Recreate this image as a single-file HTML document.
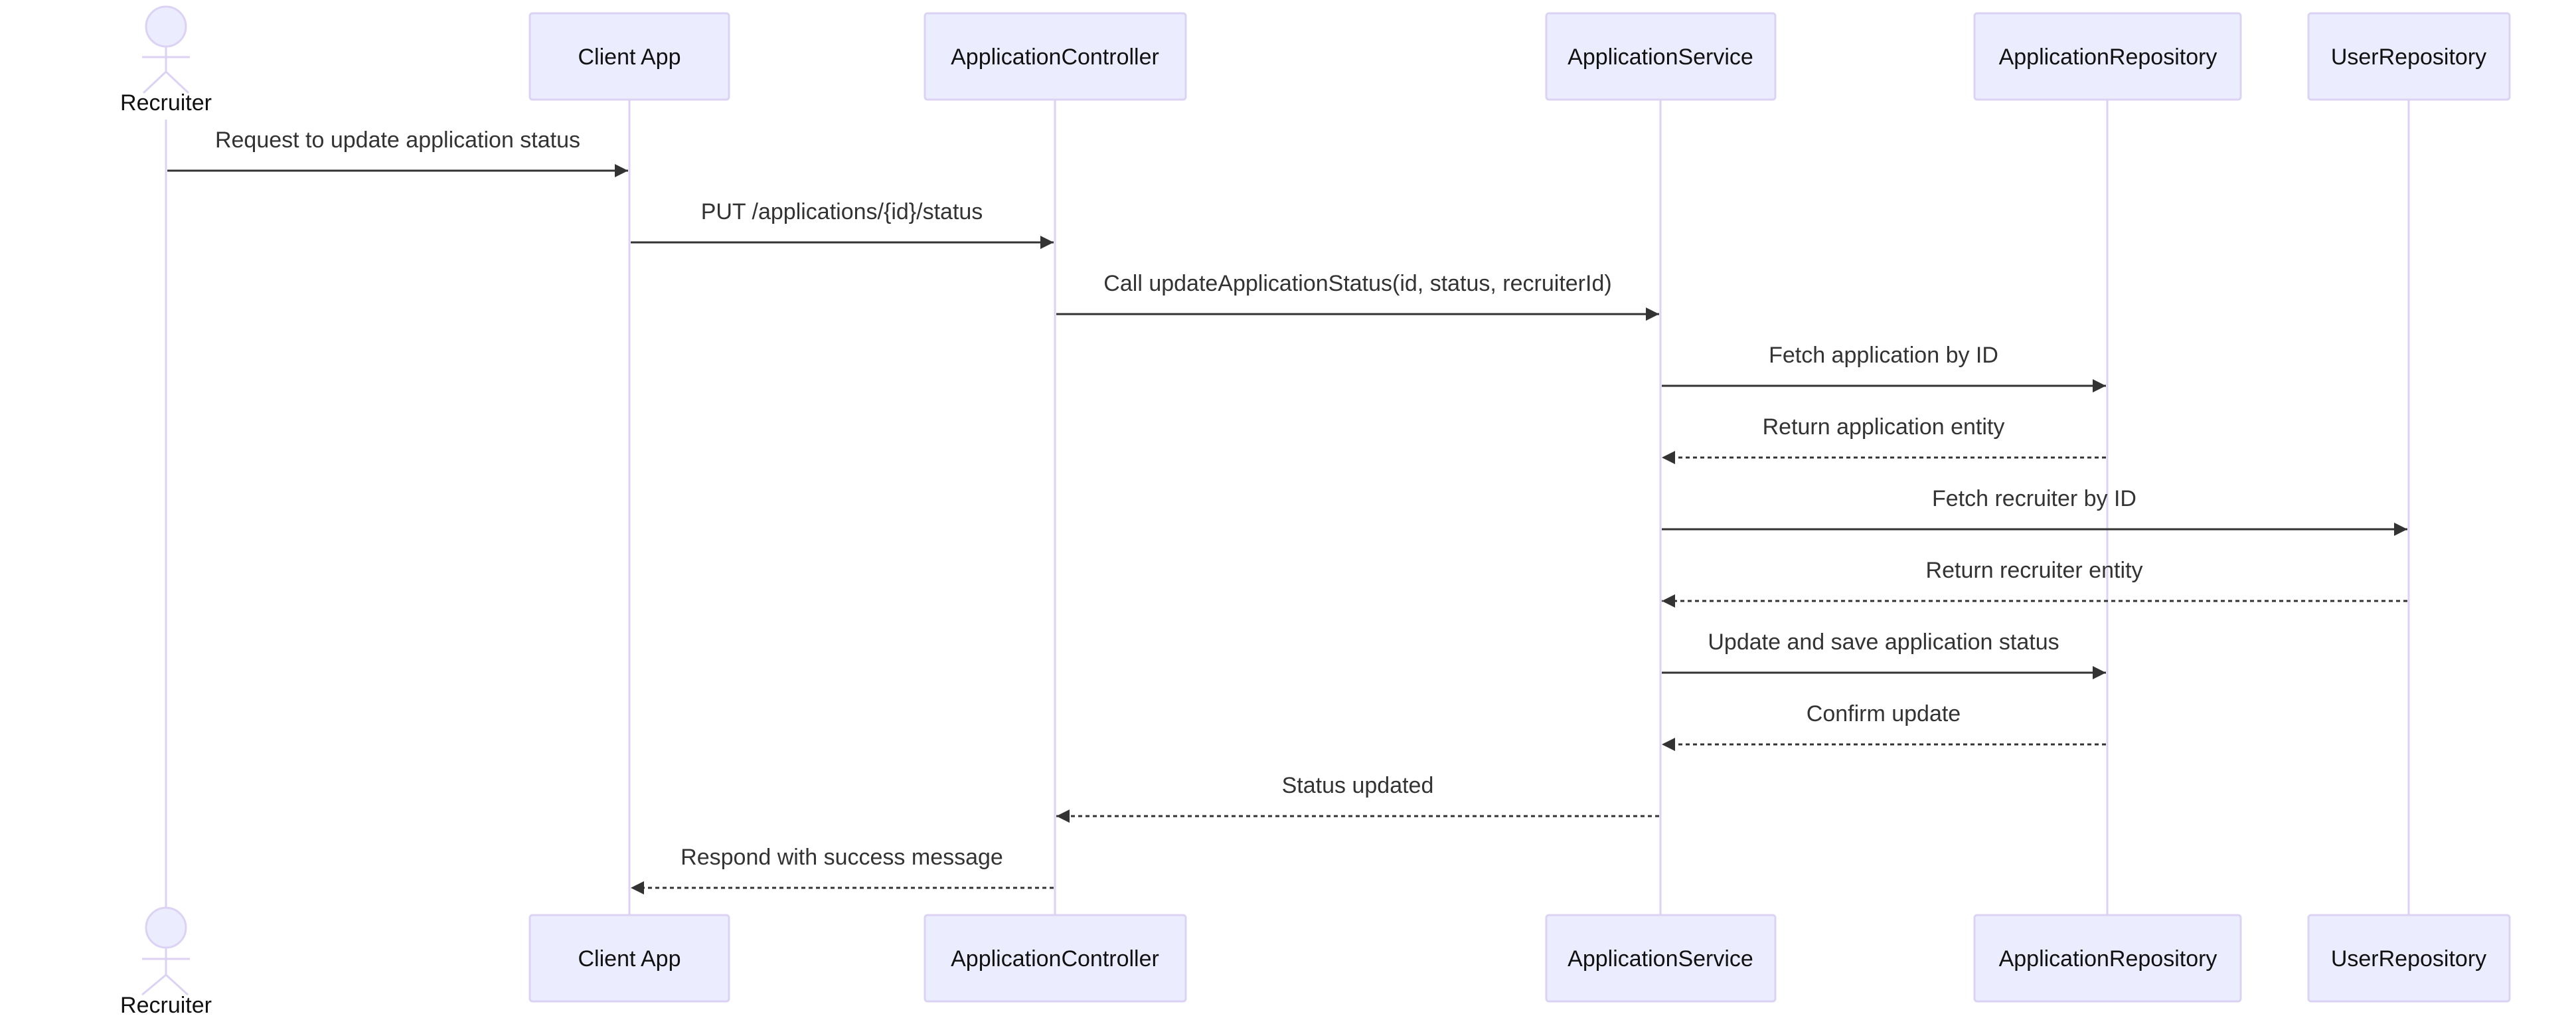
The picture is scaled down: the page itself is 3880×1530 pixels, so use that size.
<!DOCTYPE html>
<html><head><meta charset="utf-8"><style>
html,body{margin:0;padding:0;background:#fff;}
svg{display:block;}
text{font-family:"Liberation Sans",sans-serif;}
</style></head><body>
<svg width="3880" height="1530" viewBox="0 0 3880 1530" xmlns="http://www.w3.org/2000/svg">
<defs>
<marker id="ah" markerWidth="20" markerHeight="20" refX="20" refY="10" orient="auto" markerUnits="userSpaceOnUse">
<path d="M0,0 L20,10 L0,20 z" fill="#333"/>
</marker>
</defs>
<g stroke="#dcd2f3" stroke-width="3">
<line x1="250" y1="180" x2="250" y2="1367"/>
<line x1="948" y1="150" x2="948" y2="1378"/>
<line x1="1589" y1="150" x2="1589" y2="1378"/>
<line x1="2501" y1="150" x2="2501" y2="1378"/>
<line x1="3174" y1="150" x2="3174" y2="1378"/>
<line x1="3628" y1="150" x2="3628" y2="1378"/>
</g>
<g fill="#ececff" stroke="#dcd2f3" stroke-width="3">
<rect x="798" y="20" width="300" height="130" rx="4"/>
<rect x="1393" y="20" width="393" height="130" rx="4"/>
<rect x="2329" y="20" width="345" height="130" rx="4"/>
<rect x="2974" y="20" width="401" height="130" rx="4"/>
<rect x="3477" y="20" width="303" height="130" rx="4"/>
<rect x="798" y="1378" width="300" height="130" rx="4"/>
<rect x="1393" y="1378" width="393" height="130" rx="4"/>
<rect x="2329" y="1378" width="345" height="130" rx="4"/>
<rect x="2974" y="1378" width="401" height="130" rx="4"/>
<rect x="3477" y="1378" width="303" height="130" rx="4"/>
<circle cx="250" cy="40" r="30"/>
<circle cx="250" cy="1397" r="30"/>
</g>
<g stroke="#dcd2f3" stroke-width="3" fill="none">
<path d="M250,70 V108 M214,86 H286 M250,108 L216,140 M250,108 L284,140"/>
<path d="M250,1427 V1468 M214,1444 H286 M250,1468 L214,1498 M250,1468 L283,1498"/>
</g>
<g font-size="34" fill="#111" text-anchor="middle">
<text x="948" y="97">Client App</text>
<text x="1589" y="97">ApplicationController</text>
<text x="2501" y="97">ApplicationService</text>
<text x="3175" y="97">ApplicationRepository</text>
<text x="3628" y="97">UserRepository</text>
<text x="948" y="1455">Client App</text>
<text x="1589" y="1455">ApplicationController</text>
<text x="2501" y="1455">ApplicationService</text>
<text x="3175" y="1455">ApplicationRepository</text>
<text x="3628" y="1455">UserRepository</text>
<text x="250" y="166">Recruiter</text>
<text x="250" y="1525">Recruiter</text>
</g>
<g stroke="#333" stroke-width="3" marker-end="url(#ah)">
<line x1="252" y1="257" x2="946" y2="257"/>
<line x1="950" y1="365" x2="1587" y2="365"/>
<line x1="1591" y1="473" x2="2499" y2="473"/>
<line x1="2503" y1="581" x2="3172" y2="581"/>
<line x1="3172" y1="689" x2="2503" y2="689" stroke-dasharray="6,5"/>
<line x1="2503" y1="797" x2="3626" y2="797"/>
<line x1="3626" y1="905" x2="2503" y2="905" stroke-dasharray="6,5"/>
<line x1="2503" y1="1013" x2="3172" y2="1013"/>
<line x1="3172" y1="1121" x2="2503" y2="1121" stroke-dasharray="6,5"/>
<line x1="2499" y1="1229" x2="1591" y2="1229" stroke-dasharray="6,5"/>
<line x1="1587" y1="1337" x2="950" y2="1337" stroke-dasharray="6,5"/>
</g>
<g font-size="34" fill="#333" text-anchor="middle">
<text x="599" y="222">Request to update application status</text>
<text x="1268" y="330">PUT /applications/{id}/status</text>
<text x="2045" y="438">Call updateApplicationStatus(id, status, recruiterId)</text>
<text x="2837" y="546">Fetch application by ID</text>
<text x="2837" y="654">Return application entity</text>
<text x="3064" y="762">Fetch recruiter by ID</text>
<text x="3064" y="870">Return recruiter entity</text>
<text x="2837" y="978">Update and save application status</text>
<text x="2837" y="1086">Confirm update</text>
<text x="2045" y="1194">Status updated</text>
<text x="1268" y="1302">Respond with success message</text>
</g>
</svg>
</body></html>
